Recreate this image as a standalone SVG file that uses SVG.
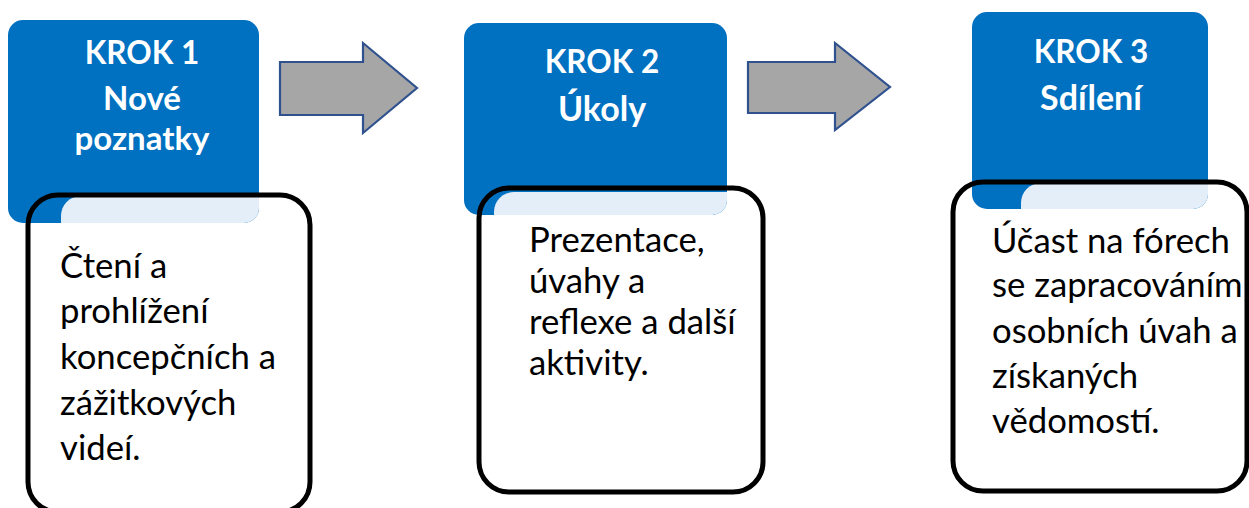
<svg xmlns="http://www.w3.org/2000/svg" width="1249" height="508" viewBox="0 0 1249 508">
<defs>
<style>
.blue{fill:#0070C0}
.light{fill:#E3EEF8}
.frame{fill:none;stroke:#000;stroke-width:5}
.arrow{fill:#A6A6A6;stroke:#2F528F;stroke-width:2.2;stroke-linejoin:miter}
.head{font-family:Lato,"Liberation Sans",sans-serif;font-weight:bold;font-size:31.5px;fill:#fff;text-anchor:middle}
.title{font-size:34px}
.tight{font-size:33px}
.body{font-family:Lato,"Liberation Sans",sans-serif;font-size:34.7px;fill:#000}
</style>
</defs>
<rect width="1249" height="508" fill="#fff"/>
<g id="connectors">
<polygon class="arrow" points="280,62 363,62 363,43 417,88 363,133 363,115 280,115"/>
<polygon class="arrow" points="748,62 835,62 835,43 890,87 835,130 835,113 748,113"/>
</g>
<g id="step1">
<rect class="blue" x="8" y="20" width="251" height="203" rx="15"/>
<path class="light" d="M61,223 V216 A20,20 0 0 1 81,196 H259 V208 A15,15 0 0 1 244,223 Z"/>
<rect class="frame" x="28" y="195" width="282" height="317" rx="30"/>
<text class="head" x="142" y="64">KROK 1</text>
<text class="head tight" x="142" y="110">Nové</text>
<text class="head tight" x="142" y="150">poznatky</text>
<text class="body"><tspan x="60" y="278">Čtení a</tspan><tspan x="60" y="323">prohlížení</tspan><tspan x="60" y="369">koncepčních a</tspan><tspan x="60" y="415">zážitkových</tspan><tspan x="60" y="460">videí.</tspan></text>
</g>
<g id="step2">
<rect class="blue" x="464" y="23" width="263" height="192" rx="15"/>
<path class="light" d="M494,215 V212 A20,20 0 0 1 514,192 H727 V200 A15,15 0 0 1 712,215 Z"/>
<rect class="frame" x="479" y="188" width="284" height="304" rx="30"/>
<text class="head" x="602" y="73">KROK 2</text>
<text class="head title" x="602" y="121">Úkoly</text>
<text class="body"><tspan x="529" y="252">Prezentace,</tspan><tspan x="529" y="293">úvahy a</tspan><tspan x="529" y="334">reflexe a další</tspan><tspan x="529" y="375">aktivity.</tspan></text>
</g>
<g id="step3">
<rect class="blue" x="972" y="12" width="236" height="197" rx="15"/>
<path class="light" d="M1021,209 V203 A20,20 0 0 1 1041,183 H1208 V194 A15,15 0 0 1 1193,209 Z"/>
<rect class="frame" x="953" y="182" width="294" height="309" rx="30"/>
<text class="head" x="1091" y="63">KROK 3</text>
<text class="head title" x="1091" y="110">Sdílení</text>
<text class="body"><tspan x="992" y="253">Účast na fórech</tspan><tspan x="992" y="297">se zapracováním</tspan><tspan x="992" y="343">osobních úvah a</tspan><tspan x="992" y="388">získaných</tspan><tspan x="992" y="433">vědomostí.</tspan></text>
</g>
</svg>
